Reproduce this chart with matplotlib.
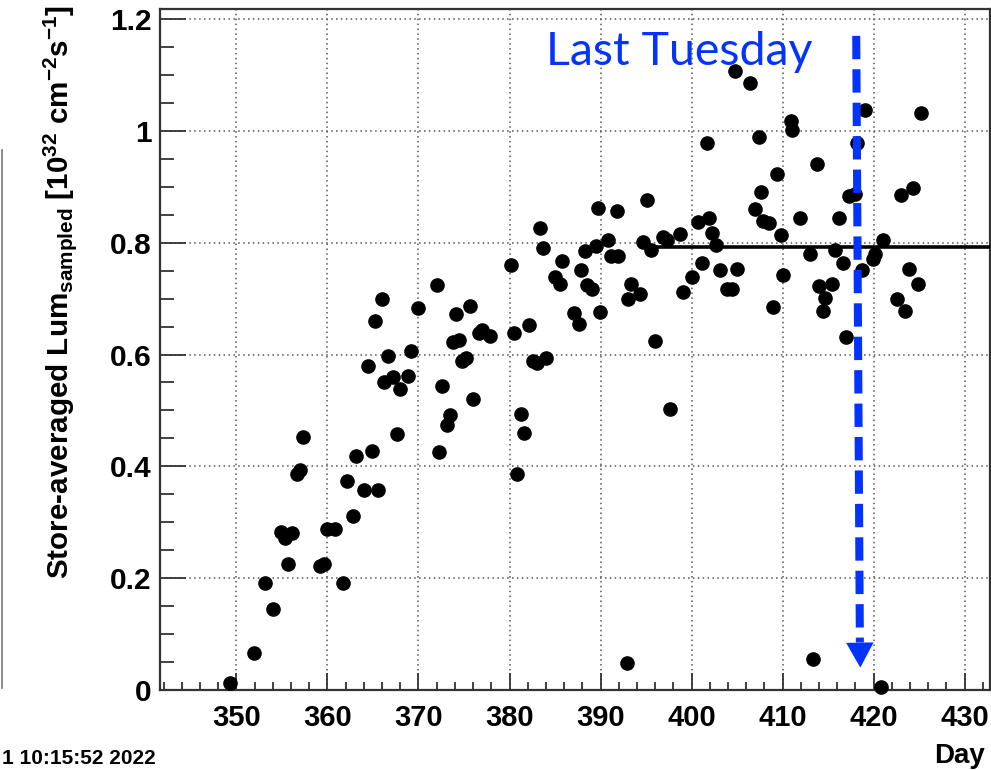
import numpy as np
import matplotlib
matplotlib.use('Agg')
import matplotlib.pyplot as plt
from matplotlib.lines import Line2D
from matplotlib.ticker import MultipleLocator

plt.rcParams['font.family'] = ['Liberation Sans', 'DejaVu Sans']
plt.rcParams['font.weight'] = 'bold'
plt.rcParams['mathtext.fontset'] = 'custom'
plt.rcParams['mathtext.rm'] = 'Liberation Sans:bold'
plt.rcParams['mathtext.it'] = 'Liberation Sans:bold'
plt.rcParams['mathtext.bf'] = 'Liberation Sans:bold'

# store-averaged luminosity per store
day = [349.3, 351.9, 353.1, 354.0, 354.9, 355.3, 355.7, 356.1, 356.6, 357.0,
       357.3, 359.2, 359.6, 360.0, 360.8, 361.7, 362.1, 362.8, 363.1, 364.0,
       364.4, 364.9, 365.2, 365.6, 366.0, 366.2, 366.7, 367.2, 367.6, 368.0,
       368.8, 369.2, 369.9, 372.0, 372.3, 372.6, 373.1, 373.5, 373.75, 374.1,
       374.5, 374.8, 375.2, 375.65, 376.0, 376.6, 377.0, 377.85, 380.2, 380.5,
       380.85, 381.3, 381.6, 382.1, 382.6, 383.0, 383.4, 383.7, 384.0, 385.0,
       385.5, 385.8, 387.1, 387.6, 387.9, 388.3, 388.5, 389.1, 389.5, 389.7,
       389.9, 390.8, 391.2, 391.85, 391.95, 392.9, 393.05, 393.4, 394.3, 394.7,
       395.1, 395.5, 396.0, 396.9, 397.35, 397.6, 398.7, 399.1, 400.0, 400.75,
       401.2, 401.7, 401.95, 402.3, 402.7, 403.1, 403.9, 404.4, 404.8, 404.97,
       406.4, 406.95, 407.4, 407.6, 407.9, 408.5, 408.9, 409.4, 409.8, 410.1,
       410.9, 411.05, 411.9, 413.0, 413.3, 413.8, 414.0, 414.4, 414.7, 415.4,
       415.75, 416.2, 416.6, 417.0, 417.35, 418.0, 418.2, 418.7, 419.1, 419.9,
       420.2, 420.8, 421.0, 422.6, 423.0, 423.5, 423.9, 424.3, 424.9, 425.2]
lum = [0.012, 0.066, 0.192, 0.144, 0.282, 0.272, 0.225, 0.281, 0.386, 0.393,
       0.453, 0.221, 0.225, 0.288, 0.288, 0.192, 0.374, 0.311, 0.419, 0.358,
       0.579, 0.428, 0.660, 0.357, 0.700, 0.551, 0.598, 0.559, 0.457, 0.539,
       0.561, 0.607, 0.683, 0.724, 0.426, 0.543, 0.474, 0.491, 0.622, 0.672,
       0.626, 0.588, 0.593, 0.687, 0.520, 0.638, 0.644, 0.634, 0.760, 0.638,
       0.386, 0.493, 0.459, 0.653, 0.588, 0.585, 0.827, 0.790, 0.593, 0.739,
       0.727, 0.768, 0.674, 0.654, 0.751, 0.786, 0.724, 0.717, 0.795, 0.862,
       0.676, 0.804, 0.777, 0.856, 0.777, 0.049, 0.700, 0.727, 0.708, 0.802,
       0.876, 0.787, 0.624, 0.811, 0.805, 0.502, 0.815, 0.711, 0.739, 0.837,
       0.763, 0.978, 0.844, 0.818, 0.796, 0.751, 0.717, 0.717, 1.108, 0.753,
       1.085, 0.860, 0.989, 0.890, 0.839, 0.835, 0.685, 0.923, 0.814, 0.743,
       1.017, 1.001, 0.845, 0.780, 0.055, 0.940, 0.723, 0.677, 0.702, 0.726,
       0.787, 0.845, 0.763, 0.631, 0.884, 0.887, 0.979, 0.751, 1.038, 0.771,
       0.780, 0.005, 0.805, 0.699, 0.885, 0.677, 0.753, 0.898, 0.726, 1.032]

# constant fit over the plateau
fit_start = 396.2
fit_value = 0.793

xmin, xmax = 341.6, 432.8
ymin, ymax = 0.0, 1.218

blue = '#0433ff'

fig = plt.figure(figsize=(9.91, 7.70), dpi=100)
ax = fig.add_axes([0.1615, 0.1039, 0.8375, 0.8844])

ax.plot(day, lum, 'o', color='black', markersize=9.5, zorder=4, clip_on=False)
ax.plot([fit_start, xmax], [fit_value, fit_value], color='black', lw=2.6, zorder=3)

ax.set_xlim(xmin, xmax)
ax.set_ylim(ymin, ymax)
ax.xaxis.set_major_locator(MultipleLocator(10))
ax.xaxis.set_minor_locator(MultipleLocator(2))
ax.yaxis.set_major_locator(MultipleLocator(0.2))
ax.yaxis.set_minor_locator(MultipleLocator(0.05))
ax.yaxis.set_major_formatter(plt.FuncFormatter(lambda v, p: '%g' % round(v, 2)))

ax.grid(True, which='major', color='#555555', linestyle=(0, (1, 2.2)), lw=1.1)
ax.tick_params(axis='y', which='major', direction='in', length=19, width=1.3,
               color='#333333', labelsize=21.5, pad=6)
ax.tick_params(axis='y', which='minor', direction='in', length=10, width=1.3,
               color='#333333')
ax.tick_params(axis='x', which='major', direction='in', length=12, width=1.3,
               color='#333333', labelsize=21, pad=10)
ax.tick_params(axis='x', which='minor', direction='in', length=6, width=1.3,
               color='#333333')
for s in ax.spines.values():
    s.set_color('#333333')
    s.set_linewidth(1.6)

ax.set_ylabel(r'Store-averaged Lum$_{\rm sampled}$ [10$^{32}$ cm$^{-2}$s$^{-1}$]',
              fontsize=21.3, fontweight='bold', loc='top')
ax.yaxis.set_label_coords(-0.098, 1.006)

# "Last Tuesday" marker
ax.text(384.0, 1.118, 'Last Tuesday', color=blue, fontsize=33.5,
        family=['Lato', 'DejaVu Sans'], fontweight='normal', va='baseline')
ax.plot([418.1, 418.5], [1.170, 0.085], color=blue, lw=5.8,
        dashes=(2.9, 1.25), solid_capstyle='butt', dash_capstyle='butt', zorder=5)
ax.annotate('', xy=(418.55, 0.040), xytext=(418.5, 0.085),
            arrowprops=dict(arrowstyle='-|>,head_length=1.0,head_width=0.55',
                            color=blue, lw=0, mutation_scale=18,
                            shrinkA=0, shrinkB=0), zorder=5)

fig.text(985 / 991, 1 - 763 / 770, 'Day', ha='right', va='baseline',
         fontsize=20, fontweight='bold')
fig.text(0.002, 1 - 759 / 770, '1 10:15:52 2022', ha='left', va='center',
         fontsize=15, fontweight='bold')
fig.add_artist(Line2D([2 / 991, 2 / 991], [1 - 150 / 770, 1 - 688 / 770],
                      color='#777777', lw=1.2))

fig.savefig('out.png', dpi=100)
